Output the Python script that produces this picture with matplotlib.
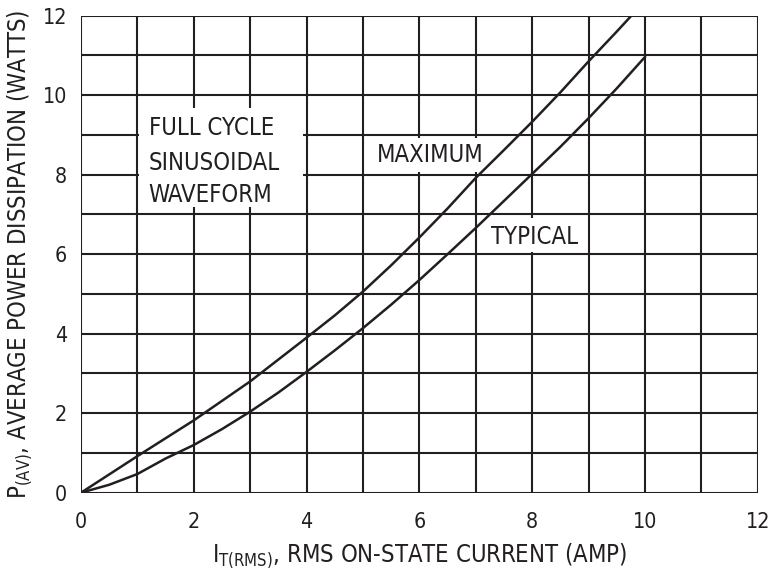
import matplotlib
matplotlib.use("Agg")
import matplotlib.pyplot as plt
from matplotlib.patches import Rectangle
from matplotlib import font_manager as fm
from matplotlib.textpath import TextPath
from matplotlib.font_manager import FontProperties

# pick a condensed sans if one is installed
chosen = None
for want in ["Liberation Sans Narrow", "DejaVu Sans"]:
    for f in fm.fontManager.ttflist:
        if f.name == want and f.style == "normal" and (
            "Narrow" in f.name or "condensed" in str(f.stretch) or "Condensed" in f.fname
        ) and f.weight in (400, "normal", "regular"):
            chosen = f
            break
    if chosen:
        break

if chosen is not None:
    FP = FontProperties(fname=chosen.fname)
else:
    FP = FontProperties(family="Liberation Sans")

# font size such that "FULL CYCLE" is about 122 px wide (as in the reference)
w100 = TextPath((0, 0), "FULL CYCLE", size=100, prop=FP).get_extents().width
fs = 100 * 122 / (w100 * 100 / 72)
FP.set_size(fs)
FP_TICK = FP.copy()
FP_TICK.set_size(fs * 0.9)

INK = "#231f20"

# Data
i_max = [0, 1, 2, 3, 4, 4.5, 5, 5.5, 6, 6.5, 7, 7.5, 8, 8.5, 9, 9.5, 9.76]
p_max = [0, 0.92, 1.82, 2.8, 3.9, 4.46, 5.06, 5.72, 6.42, 7.15, 7.92, 8.62, 9.33, 10.07, 10.85, 11.6, 12.0]
i_typ = [0, 0.5, 1, 1.5, 2, 2.5, 3, 3.5, 4, 4.5, 5, 5.5, 6, 6.5, 7, 7.5, 8, 8.5, 9, 9.5, 10]
p_typ = [0, 0.2, 0.47, 0.86, 1.2, 1.6, 2.04, 2.52, 3.04, 3.58, 4.14, 4.73, 5.35, 6.0, 6.66, 7.34, 8.02, 8.7, 9.42, 10.17, 10.96]
x_ticks = [0, 2, 4, 6, 8, 10, 12]
y_ticks = [0, 2, 4, 6, 8, 10, 12]

fig = plt.figure(figsize=(7.69, 5.84), dpi=100)
ax = fig.add_axes([0.1053, 0.1563, 0.8800, 0.8168])
ax.set_xlim(0, 12)
ax.set_ylim(0, 12)

for v in range(0, 13):
    ax.axvline(v, color=INK, lw=1.5, zorder=1)
    ax.axhline(v, color=INK, lw=1.5, zorder=1)
for s in ax.spines.values():
    s.set_visible(False)

# white label boxes
ax.add_patch(Rectangle((1.03, 7.2), 2.9, 2.48, facecolor="white", edgecolor="none", zorder=2))
ax.add_patch(Rectangle((5.25, 8.08), 1.9, 0.84, facecolor="white", edgecolor="none", zorder=2))
ax.add_patch(Rectangle((7.1, 6.05), 1.8, 0.86, facecolor="white", edgecolor="none", zorder=2))

ax.plot(i_max, p_max, color=INK, lw=1.8, zorder=3, solid_joinstyle="round")
ax.plot(i_typ, p_typ, color=INK, lw=1.8, zorder=3, solid_joinstyle="round")

def t(x, y, s, **kw):
    ax.text(x, y, s, fontproperties=FP, color=INK, va="center", zorder=4, **kw)

t(1.2, 9.18, "FULL CYCLE", ha="left")
t(1.2, 8.3, "SINUSOIDAL", ha="left")
t(1.2, 7.5, "WAVEFORM", ha="left")
t(6.19, 8.49, "MAXIMUM", ha="center")
t(8.05, 6.43, "TYPICAL", ha="center")

ax.set_xticks(x_ticks)
ax.set_yticks(y_ticks)
ax.tick_params(length=0, colors=INK)
ax.tick_params(axis="x", pad=14)
ax.tick_params(axis="y", pad=10)
for lab in ax.get_xticklabels() + ax.get_yticklabels():
    lab.set_fontproperties(FP_TICK)

ax.set_xlabel(r"$\mathregular{I_{T(RMS)}}$, RMS ON-STATE CURRENT (AMP)", fontproperties=FP, color=INK, labelpad=7)
ax.set_ylabel(r"$\mathregular{P_{(AV)}}$, AVERAGE POWER DISSIPATION (WATTS)", fontproperties=FP, color=INK, labelpad=6)

fig.savefig("out.png", dpi=100)
